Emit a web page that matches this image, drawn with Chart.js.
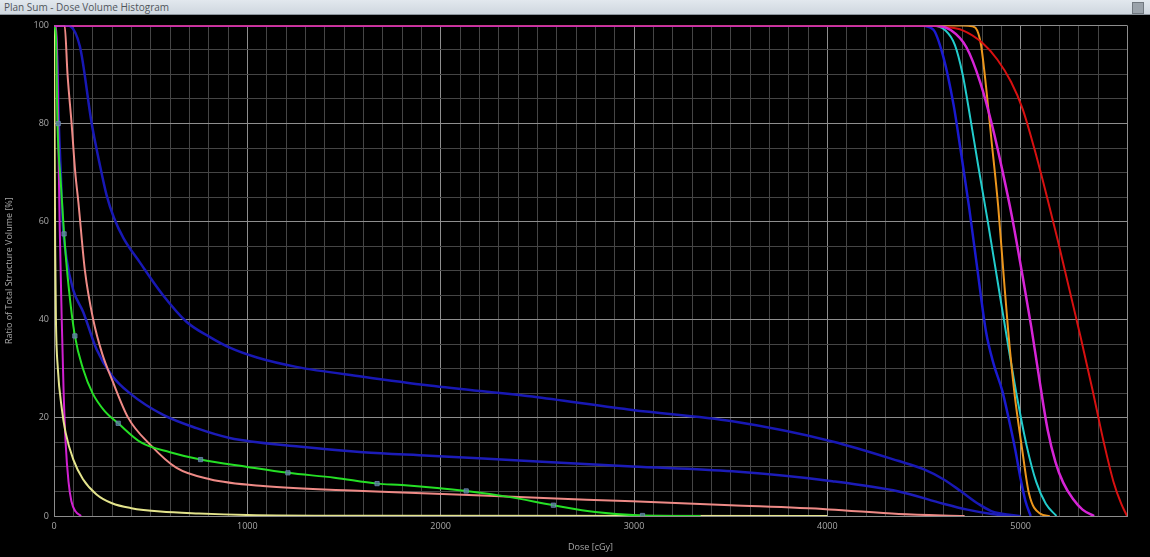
<!DOCTYPE html>
<html lang="en">
<head>
  <meta charset="utf-8">
  <title>Plan Sum - Dose Volume Histogram</title>
  <script src="https://cdn.jsdelivr.net/npm/chart.js@4.4.0/dist/chart.umd.min.js"></script>
  <style>
    html, body { margin: 0; padding: 0; background: #000; }
    .titlebar {
      height: 14px; line-height: 14px;
      background: linear-gradient(#e2e8ee, #cfd7df);
      border-bottom: 1px solid #8d959d;
      font-family: "Open Sans", "DejaVu Sans", sans-serif;
      font-size: 10px; color: #50555b; padding-left: 4px;
      position: relative;
    }
    .titlebar .icon {
      position: absolute; right: 6px; top: 2px;
      width: 10px; height: 10px; background: #9aa2aa; border: 1px solid #70787f;
    }
    .wrap { width: 1150px; height: 542px; position: relative; }
  </style>
</head>
<body>
  <div class="titlebar">Plan Sum - Dose Volume Histogram<div class="icon"></div></div>
  <div class="wrap"><canvas id="dvh"></canvas></div>

  <script>
    // dose [cGy] / volume [%] pairs
    const magentaRDose = [0, 4550, 4640, 4720, 4790, 4850, 4905, 4955, 5005, 5055, 5100, 5140, 5180, 5220, 5270, 5320, 5380];
    const magentaRVol  = [100, 100, 99, 95.5, 88.5, 80, 70.5, 61, 50, 38.5, 27, 17.5, 11, 6.8, 3.5, 1.3, 0];

    const redDose = [0, 4500, 4600, 4700, 4800, 4880, 4950, 5010, 5070, 5130, 5190, 5250, 5310, 5370, 5430, 5480, 5520, 5550];
    const redVol  = [100, 100, 99.7, 99, 96.5, 93, 88.5, 83, 75, 66, 56.5, 46.5, 36.5, 26, 15, 7, 2.5, 0];

    const orangeDose = [0, 4700, 4750, 4775, 4795, 4821, 4848, 4884, 4910, 4936, 4968, 5008, 5043, 5100, 5150];
    const orangeVol  = [100, 100, 99.8, 99, 96, 87.5, 77, 63, 50, 37.5, 25, 13.5, 4.6, 0.5, 0];

    const cyanDose = [0, 4540, 4610, 4660, 4700, 4740, 4780, 4830, 4880, 4930, 4980, 5030, 5080, 5130, 5185];
    const cyanVol  = [100, 100, 99, 96, 90, 81, 71.5, 60, 48, 36, 24.5, 14.5, 7, 2.5, 0];

    const blueRDose = [0, 4480, 4547, 4600, 4653, 4689, 4733, 4777, 4821, 4860, 4905, 4940, 4972, 5000, 5025, 5052];
    const blueRVol  = [100, 100, 99.2, 93.6, 83.8, 74.7, 63, 50, 37.5, 31, 25.5, 19.5, 13.5, 7.5, 3, 0];

    const blueUpDose = [0, 70, 134, 195, 235, 272, 310, 360, 444, 560, 685, 800, 909, 1050, 1253, 1598, 1942, 2500, 2992, 3509, 4026, 4370, 4500, 4600, 4689, 4780, 4848, 4950, 5000];
    const blueUpVol  = [100, 100, 95.7, 80, 72, 65.4, 60.8, 56.6, 51.7, 45.2, 39.6, 36.6, 34.3, 32.3, 30.4, 28.4, 26.6, 24.2, 21.6, 19.3, 15.2, 11.2, 9.5, 7.5, 5.1, 2.5, 1, 0.2, 0];

    const blueLoDose = [0, 15, 25, 35, 45, 65, 100, 151, 220, 298, 393, 565, 737, 909, 1253, 1598, 1942, 2500, 2992, 3509, 4026, 4370, 4600, 4724, 4850, 4950];
    const blueLoVol  = [100, 95, 80, 70, 60, 52.4, 46, 41.6, 34, 28.7, 25, 20.6, 17.9, 15.9, 14.2, 13, 12.3, 11.1, 10.1, 9.1, 7.1, 5, 2.5, 1.3, 0.4, 0];

    const salmonDose = [0, 55, 70, 91, 110, 126, 160, 203, 250, 298, 384, 496, 634, 806, 1081, 1598, 1942, 2500, 2992, 3500, 4008, 4370, 4710];
    const salmonVol  = [100, 100, 90, 80, 70, 64, 50, 40, 33, 28, 20, 14.6, 9.8, 7.5, 6.1, 5.1, 4.6, 3.7, 3.0, 2.2, 1.35, 0.4, 0];

    const greenDose = [0, 10, 18, 35, 52, 75, 108, 150, 200, 260, 332, 450, 600, 758, 1000, 1210, 1450, 1671, 1800, 2132, 2350, 2583, 2800, 3044, 3345];
    const greenVol  = [100, 98, 80, 68, 57.5, 47, 36.7, 30, 25, 21.5, 18.9, 15, 13, 11.5, 10, 8.8, 7.8, 6.6, 6.3, 5.1, 3.9, 2.2, 0.8, 0.1, 0];

    const markDose = [22, 52, 108, 332, 758, 1210, 1671, 2132, 2583, 3044];
    const markVol  = [80, 57.5, 36.7, 18.9, 11.5, 8.8, 6.6, 5.1, 2.2, 0.1];

    const magentaLDose = [0, 10, 20, 25, 30, 40, 50, 60, 75, 90, 110, 140];
    const magentaLVol  = [100, 100, 85, 70, 58, 40, 25, 15, 7, 3, 1, 0];

    const yellowDose = [0, 3, 6, 10, 20, 40, 60, 100, 150, 220, 300, 400, 550, 750, 1000, 1500, 4000];
    const yellowVol  = [100, 80, 55, 40, 30, 22, 17, 11.5, 7.5, 4.4, 2.6, 1.6, 0.9, 0.5, 0.2, 0.05, 0];

    const xTicks = [0, 1000, 2000, 3000, 4000, 5000];
    const yTicks = [0, 20, 40, 60, 80, 100];

    function pts(xs, ys) {
      return xs.map(function (x, i) { return { x: x, y: ys[i] }; });
    }

    function line(data, color, width) {
      return {
        data: data,
        borderColor: color,
        borderWidth: width || 2,
        pointRadius: 0,
        fill: false,
        cubicInterpolationMode: 'monotone'
      };
    }

    var markers = {
      data: pts(markDose, markVol),
      showLine: false,
      pointStyle: 'rect',
      pointRadius: 3,
      pointBackgroundColor: 'rgba(90,120,160,0.75)',
      pointBorderColor: 'rgba(110,140,180,0.8)',
      pointBorderWidth: 1
    };

    // first dataset is drawn on top
    var datasets = [
      line(pts(magentaRDose, magentaRVol), '#d624d6', 2.5),
      markers,
      line(pts(greenDose, greenVol), '#25e025'),
      line(pts(yellowDose, yellowVol), '#e4e48c'),
      line(pts(magentaLDose, magentaLVol), '#d020d0'),
      line(pts(salmonDose, salmonVol), '#ee8a86'),
      line(pts(blueLoDose, blueLoVol), '#1c1cb8', 2.5),
      line(pts(blueUpDose, blueUpVol), '#1818b4', 2.5),
      line(pts(redDose, redVol), '#d81010'),
      line(pts(orangeDose, orangeVol), '#ec961c'),
      line(pts(cyanDose, cyanVol), '#22cccc'),
      line(pts(blueRDose, blueRVol), '#1a1ad0', 2.5)
    ];

    var tickFont = { family: "'Open Sans', 'DejaVu Sans', sans-serif", size: 9 };

    new Chart(document.getElementById('dvh'), {
      type: 'line',
      data: { datasets: datasets },
      options: {
        responsive: true,
        maintainAspectRatio: false,
        animation: false,
        layout: { padding: { top: 8, right: 23, left: 0, bottom: 0 } },
        plugins: { legend: { display: false }, tooltip: { enabled: false } },
        scales: {
          x: {
            type: 'linear',
            min: 0,
            max: 5550,
            afterFit: function (s) { s.height = 41; },
            border: { color: '#8c8c8c', width: 1 },
            grid: {
              color: function (c) {
                var v = c.tick.value;
                return (xTicks.indexOf(v) >= 0 || v === 5550) ? '#8e8e8e' : '#454545';
              },
              lineWidth: 1,
              drawTicks: false
            },
            ticks: {
              stepSize: 100,
              autoSkip: false,
              maxRotation: 0,
              padding: 5,
              color: '#a8a8a8',
              font: tickFont,
              callback: function (v) { return xTicks.indexOf(v) >= 0 ? String(v) : ''; }
            },
            title: {
              display: true,
              text: 'Dose [cGy]',
              color: '#a8a8a8',
              font: tickFont,
              padding: { top: 0 }
            }
          },
          y: {
            min: 0,
            max: 100,
            afterFit: function (s) { s.width = 54; },
            border: { color: '#8c8c8c', width: 1 },
            grid: {
              color: function (c) {
                return yTicks.indexOf(c.tick.value) >= 0 ? '#8e8e8e' : '#454545';
              },
              lineWidth: 1,
              drawTicks: false
            },
            ticks: {
              stepSize: 5,
              autoSkip: false,
              padding: 5,
              color: '#a8a8a8',
              font: tickFont,
              callback: function (v) { return yTicks.indexOf(v) >= 0 ? String(v) : ''; }
            },
            title: {
              display: true,
              text: 'Ratio of Total Structure Volume [%]',
              color: '#a8a8a8',
              font: tickFont,
              padding: { bottom: 8 }
            }
          }
        }
      }
    });
  </script>
</body>
</html>
